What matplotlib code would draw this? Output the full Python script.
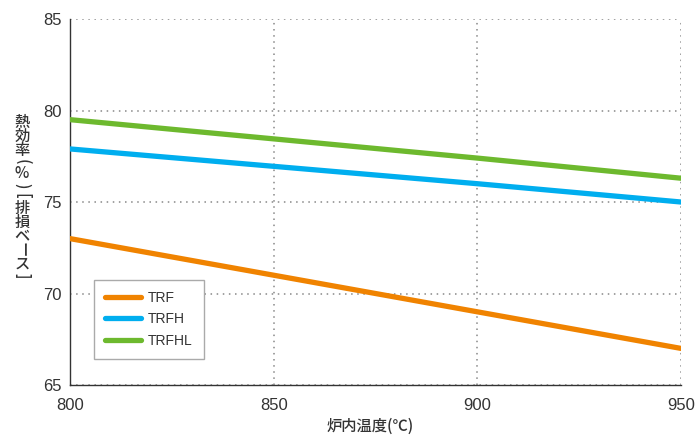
import matplotlib
matplotlib.use("Agg")
import matplotlib.pyplot as plt

plt.rcParams['font.family'] = ['Liberation Sans', 'Noto Sans CJK JP', 'DejaVu Sans']

temps = [800, 850, 900, 950]
trf = [73.0, 71.0, 69.0, 67.0]
trfh = [77.9, 76.95, 76.0, 75.0]
trfhl = [79.5, 78.45, 77.4, 76.3]
series_names = ["TRF", "TRFH", "TRFHL"]
colors = ["#F08300", "#00AEEF", "#6DB92E"]
x_ticks = [800, 850, 900, 950]
y_ticks = [65, 70, 75, 80, 85]
ylabel_chars = ["熱", "効", "率", "(", "%", ")", "[", "排", "損", "ベ", "ー", "ス", "]"]

fig = plt.figure(figsize=(6.97, 4.38), dpi=100)
ax = fig.add_axes([0.1004, 0.121, 0.8766, 0.8356])

for vals, name, c in zip([trf, trfh, trfhl], series_names, colors):
    ax.plot(temps, vals, color=c, lw=3.8, label=name, solid_capstyle='round', zorder=3)

ax.set_xlim(800, 950)
ax.set_ylim(65, 85)
ax.set_xticks(x_ticks)
ax.set_yticks(y_ticks)
ax.tick_params(length=0, labelsize=12, colors='#333333')
ax.tick_params(axis='x', pad=9)
ax.tick_params(axis='y', pad=6)
ax.grid(True, linestyle=(0, (1, 3)), color='#888888', lw=1.1, zorder=1)
for s in ['top', 'right']:
    ax.spines[s].set_visible(False)
for s in ['left', 'bottom']:
    ax.spines[s].set_color('#333333')
    ax.spines[s].set_linewidth(1.0)

leg = ax.legend(loc='lower left', bbox_to_anchor=(0.039, 0.071), fontsize=10,
                fancybox=False, framealpha=1, edgecolor='#aaaaaa',
                handlelength=2.6, handletextpad=0.5, borderpad=0.8,
                labelspacing=0.55, borderaxespad=0)
leg.get_frame().set_linewidth(1.0)
for t in leg.get_texts():
    t.set_color('#333333')

fig.text(370 / 697, 1 - 426 / 438, "炉内温度(℃)", ha='center', va='center',
         fontsize=11, color='#333333', weight='medium',
         family=['Noto Sans CJK JP', 'DejaVu Sans'])

# vertical (tategaki) y label: stack glyphs, turn brackets and the long vowel
y = 122.0
prev_half = None
for ch in ylabel_chars:
    turned = ch in "()[]ー"
    half = 5.0 if ch in "()[]" else 7.0
    if prev_half is not None:
        y += prev_half + half
    fig.text(22 / 697, 1 - y / 438, ch, ha='center', va='center',
             rotation=-90 if turned else 0,
             fontsize=11, color='#333333', weight='medium',
             family=['Noto Sans CJK JP', 'DejaVu Sans'])
    prev_half = half

fig.savefig("out.png", dpi=100)
